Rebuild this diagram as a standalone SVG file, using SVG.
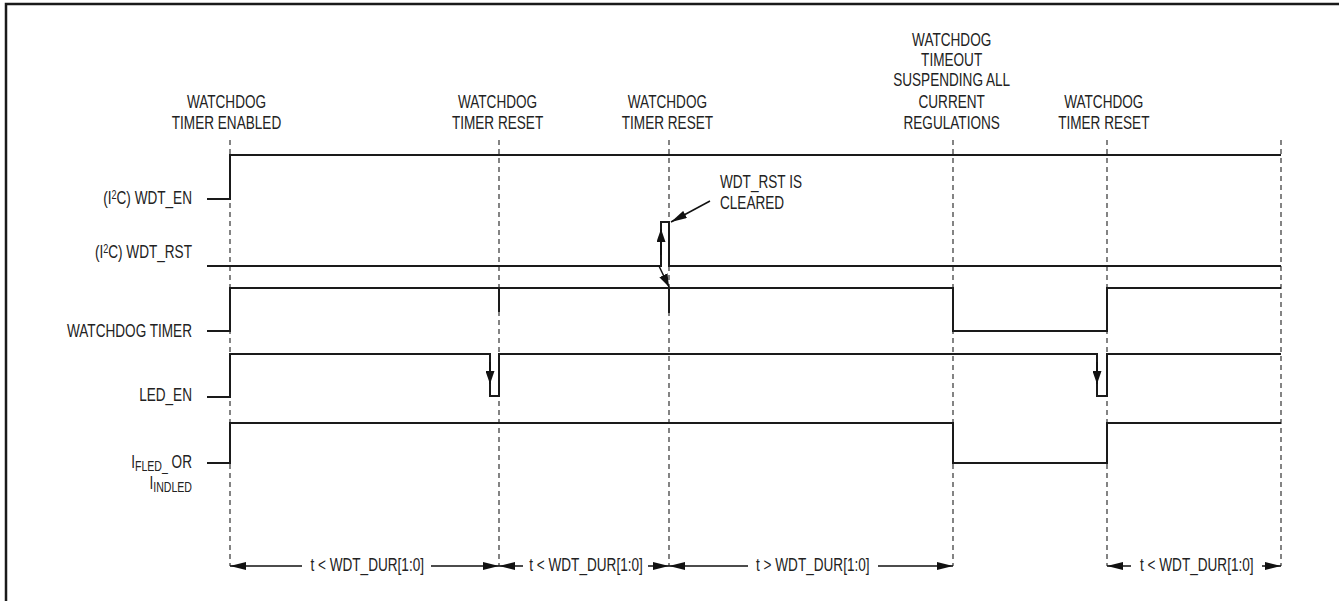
<svg xmlns="http://www.w3.org/2000/svg" width="1339" height="601" viewBox="0 0 1339 601">
<style>
.sig{fill:none;stroke:#1a1a1a;stroke-width:2;stroke-linejoin:miter}
.dash{fill:none;stroke:#333;stroke-width:1.2;stroke-dasharray:5 4}
.dim{fill:none;stroke:#111;stroke-width:1.5}
.arr{fill:none;stroke:#111;stroke-width:1.5}
text{font-family:"Liberation Sans",Arial,sans-serif;font-size:18px;fill:#222}
.m{text-anchor:middle}
.e{text-anchor:end}
.sub{font-size:14px}
.sup{font-size:12px}
</style>
<defs>
<marker id="ah" viewBox="0 0 16 8" refX="16" refY="4" markerWidth="16" markerHeight="8" markerUnits="userSpaceOnUse" orient="auto">
<path d="M0,0 L16,4 L0,8 z" fill="#111"/>
</marker>
<marker id="ah2" viewBox="0 0 13 9" refX="13" refY="4.5" markerWidth="13" markerHeight="9" markerUnits="userSpaceOnUse" orient="auto">
<path d="M0,0 L13,4.5 L0,9 z" fill="#111"/>
</marker>
</defs>
<rect x="0" y="0" width="1339" height="601" fill="#fff"/>
<rect x="6" y="4" width="1400" height="700" fill="none" stroke="#1a1a1a" stroke-width="2.5"/>

<g id="guides">
<line class="dash" x1="230" y1="140" x2="230" y2="566"/>
<line class="dash" x1="499" y1="140" x2="499" y2="566"/>
<line class="dash" x1="669" y1="140" x2="669" y2="566"/>
<line class="dash" x1="953" y1="140" x2="953" y2="566"/>
<line class="dash" x1="1107" y1="140" x2="1107" y2="566"/>
<line class="dash" x1="1281" y1="140" x2="1281" y2="566"/>
</g>

<g transform="scale(0.755 1)">
<g id="event-enabled">
<text class="m" x="300" y="108">WATCHDOG</text>
<text class="m" x="300" y="129.5">TIMER ENABLED</text>
</g>
<g id="event-reset1">
<text class="m" x="659" y="108">WATCHDOG</text>
<text class="m" x="659" y="129.5">TIMER RESET</text>
</g>
<g id="event-reset2">
<text class="m" x="884" y="108">WATCHDOG</text>
<text class="m" x="884" y="129.5">TIMER RESET</text>
</g>
<g id="event-timeout">
<text class="m" x="1260.5" y="46">WATCHDOG</text>
<text class="m" x="1260.5" y="66">TIMEOUT</text>
<text class="m" x="1260.5" y="86.5">SUSPENDING ALL</text>
<text class="m" x="1260.5" y="108">CURRENT</text>
<text class="m" x="1260.5" y="129.5">REGULATIONS</text>
</g>
<g id="event-reset3">
<text class="m" x="1462" y="108">WATCHDOG</text>
<text class="m" x="1462" y="129.5">TIMER RESET</text>
</g>
<g id="note-cleared">
<text x="953.6" y="188.5">WDT_RST IS</text>
<text x="953.6" y="209.5">CLEARED</text>
</g>
<g id="labels">
<text class="e" x="254.3" y="204.5">(I<tspan class="sup" dy="-5">2</tspan><tspan dy="5">C) WDT_EN</tspan></text>
<text class="e" x="254.3" y="258.5">(I<tspan class="sup" dy="-5">2</tspan><tspan dy="5">C) WDT_RST</tspan></text>
<text class="e" x="254.3" y="337.5">WATCHDOG TIMER</text>
<text class="e" x="254.3" y="401.5">LED_EN</text>
<text class="e" x="254.3" y="468.5">I<tspan class="sub" dy="3">FLED_</tspan><tspan dy="-3"> OR</tspan></text>
<text class="e" x="254.3" y="489">I<tspan class="sub" dy="3">INDLED</tspan></text>
</g>
<g id="durations">
<text class="m" x="486.4" y="571">t &lt; WDT_DUR[1:0]</text>
<text class="m" x="776.2" y="571">t &lt; WDT_DUR[1:0]</text>
<text class="m" x="1076.6" y="571">t &gt; WDT_DUR[1:0]</text>
<text class="m" x="1585.2" y="571">t &lt; WDT_DUR[1:0]</text>
</g>
</g>

<g id="sig-wdt-en">
<polyline class="sig" points="207,199 230,199 230,155 1281,155"/>
</g>
<g id="sig-wdt-rst">
<polyline class="sig" points="207,266 661,266 661,222 669,222 669,266 1281,266"/>
</g>
<g id="sig-watchdog-timer">
<polyline class="sig" points="207,331 230,331 230,288 953,288 953,331 1107,331 1107,288 1281,288"/>
<line class="sig" x1="499" y1="288" x2="499" y2="312"/>
<line class="sig" x1="669" y1="288" x2="669" y2="313"/>
</g>
<g id="sig-led-en">
<polyline class="sig" points="207,397 230,397 230,354 490,354 490,396 499,396 499,354 1097,354 1097,396 1107,396 1107,354 1281,354"/>
</g>
<g id="sig-iled">
<polyline class="sig" points="207,463 230,463 230,423 953,423 953,463 1107,463 1107,423 1281,423"/>
</g>

<g id="connectors">
<line class="arr" x1="710" y1="201" x2="671" y2="222" marker-end="url(#ah)"/>
<line class="arr" x1="661" y1="255" x2="661" y2="229" marker-end="url(#ah2)"/>
<line class="arr" x1="659" y1="266" x2="669" y2="287" marker-end="url(#ah2)"/>
<line class="arr" x1="490" y1="362" x2="490" y2="384" marker-end="url(#ah2)"/>
<line class="arr" x1="1097" y1="362" x2="1097" y2="384" marker-end="url(#ah2)"/>
<line class="dim" x1="302" y1="566" x2="230" y2="566" marker-end="url(#ah)"/>
<line class="dim" x1="431" y1="566" x2="499" y2="566" marker-end="url(#ah)"/>
<line class="dim" x1="523" y1="566" x2="499" y2="566" marker-end="url(#ah)"/>
<line class="dim" x1="648" y1="566" x2="669" y2="566" marker-end="url(#ah)"/>
<line class="dim" x1="748" y1="566" x2="669" y2="566" marker-end="url(#ah)"/>
<line class="dim" x1="878" y1="566" x2="953" y2="566" marker-end="url(#ah)"/>
<line class="dim" x1="1131" y1="566" x2="1107" y2="566" marker-end="url(#ah)"/>
<line class="dim" x1="1262" y1="566" x2="1281" y2="566" marker-end="url(#ah)"/>
</g>
</svg>
